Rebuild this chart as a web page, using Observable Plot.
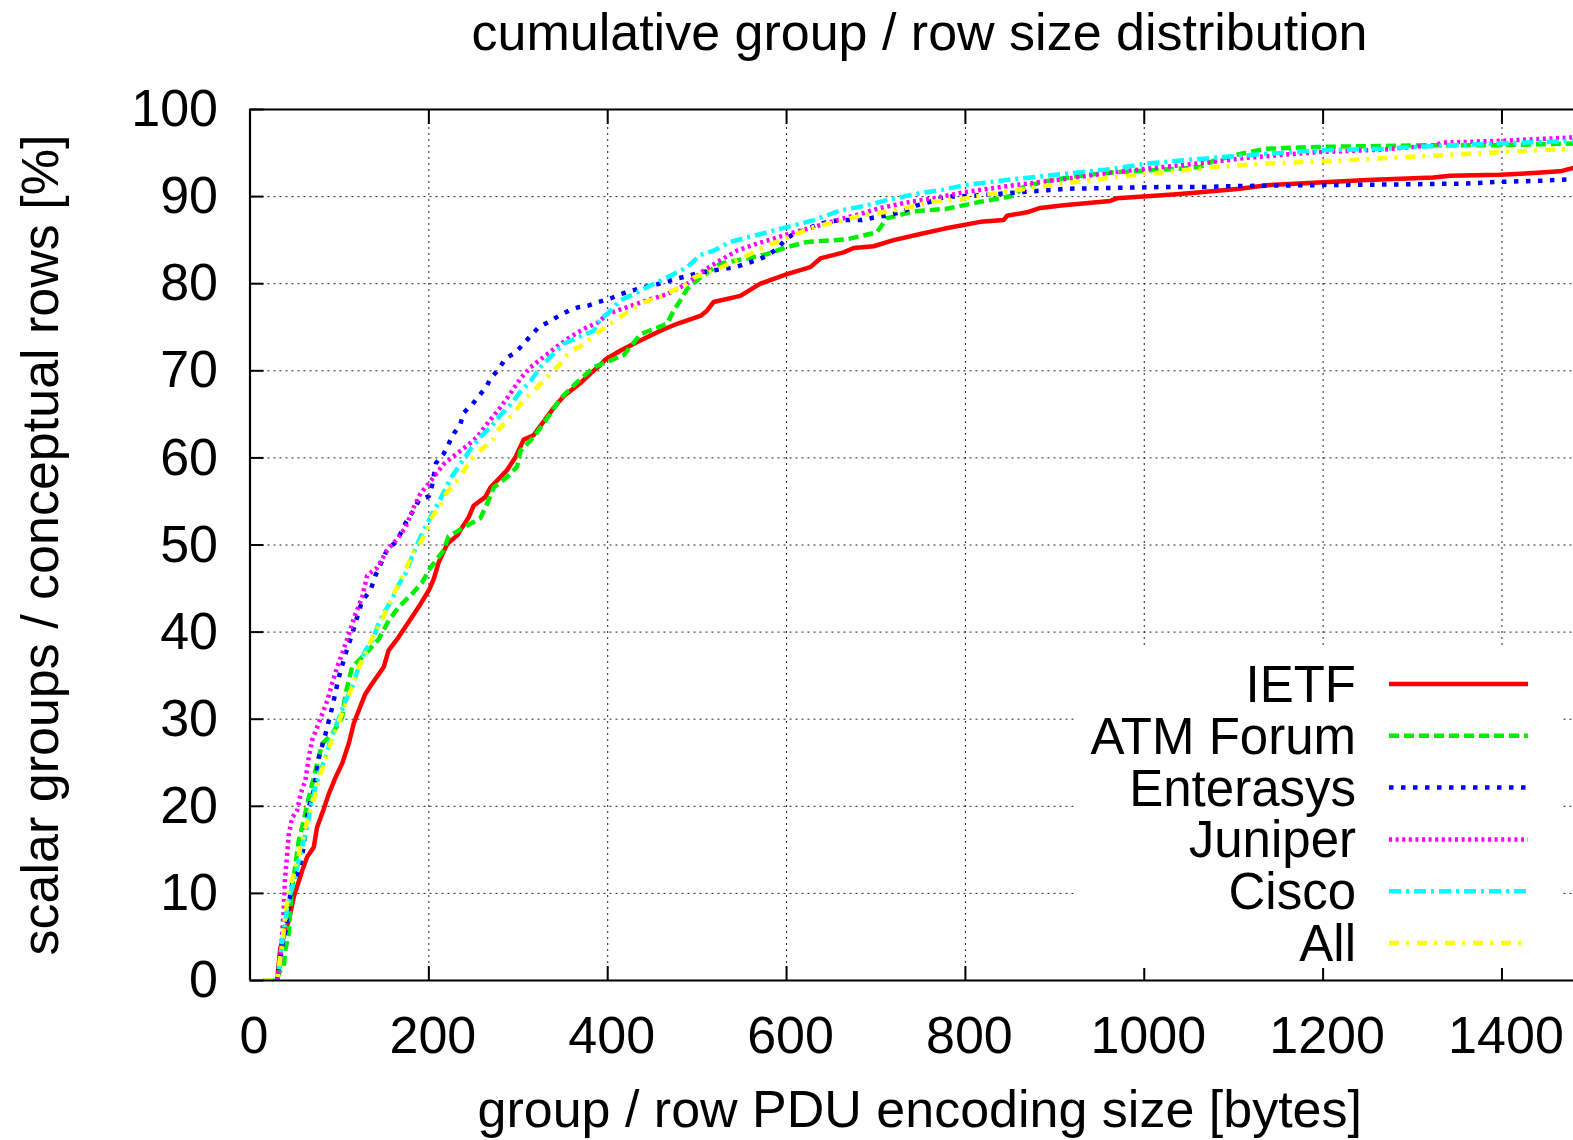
<!DOCTYPE html>
<html>
<head>
<meta charset="utf-8">
<script src="https://cdn.jsdelivr.net/npm/d3@7"></script>
<script src="https://cdn.jsdelivr.net/npm/@observablehq/plot@0.6"></script>
<style>
  html, body { margin: 0; padding: 0; background: #fff; overflow: hidden; }
  body { width: 1573px; height: 1140px; position: relative; font-family: "Liberation Sans", Arial, sans-serif; color: #000; }
  #title { position: absolute; left: 248px; top: 0; width: 1343px; height: 64px; line-height: 64px; text-align: center; font-size: 52px; white-space: nowrap; }
  #chart { position: absolute; left: 0; top: 64px; }
  #legend { position: absolute; left: 1077px; top: 648px; }
</style>
</head>
<body>
<div id="title"></div>
<div id="chart"></div>
<div id="legend"></div>
<script>
// ---- texts ----
const titleText = "cumulative group / row size distribution";
const xLabel = "group / row PDU encoding size [bytes]";
const yLabel = "scalar groups / conceptual rows [%]";

// ---- ticks ----
const xTicks = [0, 200, 400, 600, 800, 1000, 1200, 1400];
const yTicks = [0, 10, 20, 30, 40, 50, 60, 70, 80, 90, 100];
const xGrid = [200, 400, 600, 800, 1000, 1200, 1400];
const yGrid = [10, 20, 30, 40, 50, 60, 70, 80, 90];

// ---- series: [size in bytes, cumulative %] ----
const seriesNames = ["IETF", "ATM Forum", "Enterasys", "Juniper", "Cisco", "All"];

const ietf = [[15,0],[30,0],[30.4,0.2],[34,3.8],[43.4,6.9],[49,9.6],[58.3,12.6],[64,14.2],[71.3,15.3],[75,17.6],[82.5,19.7],[88,21.4],[95.6,23.3],[103,24.9],[110.5,27.2],[116,29.5],[121.6,31],[129,32.9],[136.6,34.1],[149.6,36],[155,37.9],[166,39.4],[181,41.7],[188.7,42.9],[200,44.8],[205.5,46.1],[211,48],[220.5,50.1],[231.6,51.1],[244.6,53.2],[250,54.5],[263,55.5],[268.9,56.6],[287.5,58.6],[297,60.1],[306,62.1],[317,62.6],[330,64.4],[340,65.8],[351,67.1],[369.5,68.6],[381,69.7],[392,70.7],[397.4,71.3],[414,72.3],[433,73.3],[459,74.6],[477.6,75.4],[503.6,76.3],[511,76.9],[518.5,77.9],[548.3,78.6],[570.7,80],[600.5,81.1],[626.6,81.9],[637.8,82.9],[663.8,83.6],[675,84.1],[697.4,84.3],[719.7,85],[749.6,85.7],[775.6,86.3],[816.7,87.1],[842.7,87.3],[846.5,87.8],[868.8,88.2],[883.7,88.7],[909.8,89],[962,89.5],[969.5,89.8],[999.2,90],[1040,90.3],[1062.6,90.5],[1107,90.9],[1137,91.3],[1211.6,91.7],[1249,91.9],[1323.4,92.2],[1342,92.4],[1398,92.5],[1435,92.7],[1465,92.9],[1480,93.3]];

const atmForum = [[15,0],[30,0],[33,1],[37.8,1.7],[39.7,3.6],[43.4,5.4],[45.3,8.4],[47.2,10.7],[50.9,13.4],[54.6,16.1],[60.1,18.4],[65.7,21],[73.2,24.1],[80.7,27.2],[91.9,28.3],[103,30.2],[106.8,32.9],[114.3,36],[129,37.5],[144,39.2],[155,41.3],[166.4,42.9],[181.3,44.4],[192.5,45.7],[201.8,47.4],[216.7,49.4],[222,51],[239,52],[257.7,53.1],[265,54.7],[272.5,56.6],[287.5,57.8],[298.7,59],[302.4,60.8],[317.3,62.4],[332,64.5],[347,66.8],[365.8,68.7],[384.4,70.4],[418,71.8],[436.6,74.2],[466.4,75.4],[473.8,76.9],[481.3,78.1],[488.8,79.4],[503.6,80.7],[526,82.3],[555.8,82.9],[578,83.4],[600.5,84.2],[623,84.8],[667.6,85.1],[701,85.9],[712,87.5],[742,88.3],[779,88.6],[816.7,89.4],[854,90.1],[865,91.1],[891,91.8],[928.4,92.4],[965.7,92.8],[1003,93],[1040,93.2],[1062.6,93.4],[1077.5,94.1],[1107,94.9],[1137,95.5],[1193,95.7],[1323,95.9],[1398,95.9],[1480,96.1]];

const enterasys = [[15,0],[30,0],[33,2],[36,4],[39.7,5.7],[43.4,8.8],[47.2,11.1],[54.6,12.6],[60,15.3],[62,17.6],[65.7,19.9],[71.3,21.8],[77,25.6],[84.4,28.3],[92,31.4],[99.3,34.8],[106.8,37.5],[114.3,39.8],[118,41.1],[125.4,43.6],[134.7,44.8],[140.3,46.5],[147.8,48.2],[153.4,49.5],[164,50.4],[173.8,52.5],[183,54],[188.7,55.1],[200,55.6],[203.7,56.9],[208,59.4],[216.7,60.5],[228,62.8],[235.3,63.9],[239,65.2],[248.4,66.1],[255.8,67.1],[264,68.1],[268.9,69.1],[278.2,70.2],[285.6,71.4],[296.8,72.1],[304.3,72.9],[313.6,74],[322.9,75],[334,75.6],[345.2,76.3],[356.4,76.9],[367.6,77.3],[378.8,77.5],[390,77.9],[403,78.3],[414,78.8],[427,79.2],[440,79.6],[451.4,79.8],[464.5,80.2],[477.6,80.6],[490.5,80.9],[503.6,81.3],[516.7,81.5],[529.7,81.7],[542.7,81.9],[554,82.3],[567,82.7],[578.2,83.2],[589.4,84],[600,85.2],[608,85.7],[619,86.1],[632.2,86.7],[645.3,87.1],[660,87.3],[684.4,87.3],[697.4,87.6],[710.4,87.8],[723.5,88.1],[734.7,88.5],[745.9,89],[757,89.3],[772,89.8],[783,90],[809,90.1],[861,90.5],[913.6,90.9],[965.7,91],[1021.6,91.1],[1070,91.1],[1096,91.2],[1174,91.3],[1286,91.4],[1361,91.5],[1398,91.7],[1439,91.8],[1480,92]];

const juniper = [[15,0],[30,0],[32,1],[34,2.3],[36,5.4],[37.8,8.4],[39,11.5],[41.6,14.5],[43.4,16.8],[47.2,18.7],[52.8,19.5],[56.5,21.4],[62,23],[65.7,25.6],[69.5,27.6],[75.1,29.1],[80.7,30.6],[86.3,32.1],[91.9,34.1],[97.5,36],[103,37.5],[110.5,39.8],[118,42.1],[125.4,44],[131,46.5],[142.2,47.4],[153.4,49.4],[164.6,50.7],[173.8,52],[183,54.3],[190.6,55.9],[205.5,57.8],[216.7,59.3],[229,60.3],[242.8,61.4],[254,62.4],[265,63.9],[280,65.8],[291.2,67.4],[302.4,69.1],[313.6,70.4],[328.5,71.6],[343.4,72.8],[358.3,73.9],[373,74.8],[390,75.6],[399.3,76.5],[421.7,77.3],[444,78.1],[466.4,78.8],[488.8,80],[507.3,81.5],[526,82.7],[544.7,83.8],[567,84.6],[589.4,85.3],[608,85.9],[630.3,86.5],[656.4,87.3],[682.5,88],[704.8,88.7],[738.4,89.4],[764.4,89.8],[798,90.5],[854,91.3],[909.8,92],[965.7,92.8],[1021.6,93.4],[1077.5,94],[1118.5,94.5],[1193,95.1],[1267.5,95.4],[1323.4,95.9],[1334.6,96.2],[1398,96.4],[1480,96.8]];

const cisco = [[15,0],[30,0],[33,2],[36,4.5],[39.7,6.9],[41.6,8.4],[45.3,10],[50.9,12.2],[54.6,13.8],[58.3,15.3],[64,17.6],[67.6,19.9],[73.2,22.2],[78.8,24.1],[84.4,25.6],[90,27.6],[95.6,29.1],[101.2,30.6],[106.8,32.1],[114.3,33.7],[121.6,36],[129,37.9],[136.6,39],[144,41],[151.5,42.5],[159,43.8],[166.4,45.5],[173.8,46.7],[179.4,48.2],[187,50.1],[190.6,50.9],[201.8,53.2],[213,55.3],[224,57.6],[235.3,59.3],[246.5,61],[257.7,62.4],[268.9,63.5],[280,64.9],[291.2,66.1],[302.4,67.6],[313.6,68.8],[324.8,70.4],[336,71.6],[351,73.1],[365.8,73.8],[384.4,74.6],[391.8,76],[399.3,76.5],[414.2,78.1],[429,78.8],[447.7,79.8],[466.4,80.7],[488.8,81.9],[503.6,83.3],[518.5,83.8],[537,84.8],[555.8,85.3],[578.2,85.9],[608,86.7],[630.3,87.3],[660,88.4],[690,89],[712,89.6],[749.6,90.4],[775.6,90.8],[798,91.3],[854,92],[909.8,92.6],[965.7,93.2],[1003,93.8],[1059,94.3],[1107,94.7],[1193,95.3],[1267.5,95.5],[1342,95.9],[1398,96.1],[1480,96.4]];

const all = [[15,0],[30,0],[33,2],[36,4.2],[39.7,7.7],[43.4,10.3],[49,12.2],[54.6,14.5],[62,17.6],[67.6,19.5],[73.2,21.4],[78.8,23.7],[84.4,25.3],[90,27.2],[95.6,28.7],[101.2,30.2],[106.8,31.8],[114.3,33.7],[119.8,35.6],[132.8,38.3],[138.4,39.8],[146,41],[157,43.6],[170,46.3],[183,49.2],[187,49.6],[198,51.7],[201.8,53],[213,54.5],[216.7,55.6],[231.6,57.4],[235.3,57.9],[246.5,59.7],[254,60.5],[261.4,61.2],[272.5,62.2],[276.4,63.1],[291.2,64.7],[306,66.6],[310,67],[321,68.1],[328.5,68.9],[347,70.8],[358.3,72.3],[369.5,72.8],[391.8,74.6],[414.2,76.2],[436.6,77.7],[459,78.5],[488.8,80],[496,80.7],[518.5,81.5],[541,82.5],[559.5,83.4],[570.7,84],[600.5,85.3],[630.3,86.5],[656.4,87.1],[682.5,87.8],[708.5,88.2],[738.4,88.8],[760.8,89.4],[794.3,89.7],[816.7,90.1],[854,90.7],[909.8,91.5],[965.7,92.2],[1021.6,92.8],[1062.6,93.2],[1077.5,93.4],[1137,93.8],[1211.6,94.1],[1286,94.5],[1361,94.9],[1398,95.1],[1480,95.5]];

const seriesData = [ietf, atmForum, enterasys, juniper, cisco, all];

// ---- styles ----
const seriesColors = ["#ff0000", "#00ee00", "#0000ff", "#ff00ff", "#00ffff", "#ffff00"];
const seriesDash = [null, "10,5", "4.5,7.5", "3,3.6", "12,5,3,5", "10,7,3,8"];
const lineWidth = 4.5;
const font = "Liberation Sans, Arial, sans-serif";
const fs = 52;
const keyFs = 51;

document.getElementById("title").textContent = titleText;

const lineMarks = seriesData.map((data, i) =>
  Plot.line(data, {
    x: d => d[0], y: d => d[1],
    stroke: seriesColors[i], strokeWidth: lineWidth,
    strokeDasharray: seriesDash[i] || undefined,
    strokeLinecap: "butt", strokeLinejoin: "round",
    clip: true
  })
);

const chart = Plot.plot({
  width: 1573,
  height: 1076,
  marginLeft: 249.5,
  marginRight: 0,
  marginTop: 45,
  marginBottom: 160,
  x: {domain: [0, 1480]},
  y: {domain: [0, 100]},
  style: {fontFamily: font, background: "transparent", color: "#000", overflow: "visible"},
  marks: [
    Plot.gridX(xGrid, {stroke: "#222", strokeOpacity: 1, strokeWidth: 1, strokeDasharray: "2,4"}),
    Plot.gridY(yGrid, {stroke: "#222", strokeOpacity: 1, strokeWidth: 1, strokeDasharray: "2,4"}),
    // inward ticks (gnuplot style, mirrored on top)
    Plot.axisX({anchor: "bottom", ticks: xTicks, tickSize: -14, text: null, label: null, strokeWidth: 2}),
    Plot.axisX({anchor: "top", ticks: xTicks, tickSize: -14, text: null, label: null, strokeWidth: 2}),
    Plot.axisY({anchor: "left", ticks: yTicks, tickSize: -14, text: null, label: null, strokeWidth: 2}),
    // tick labels
    Plot.axisX({anchor: "bottom", ticks: xTicks, tickFormat: d => String(d), tickSize: 0, tickPadding: 36, dx: 4, fontSize: fs, label: null}),
    Plot.axisY({anchor: "left", ticks: yTicks, tickFormat: d => String(d), tickSize: 0, tickPadding: 32, fontSize: fs, label: null}),
    ...lineMarks,
    Plot.ruleY([0, 100], {stroke: "#000", strokeWidth: 2.2}),
    Plot.ruleX([0], {stroke: "#000", strokeWidth: 2.2}),
    Plot.text([xLabel], {frameAnchor: "bottom", dx: 8, dy: 146, lineAnchor: "bottom", textAnchor: "middle", fontSize: fs, fill: "#000"}),
    Plot.text([yLabel], {frameAnchor: "left", dx: -192.5, rotate: -90, lineAnchor: "bottom", textAnchor: "middle", fontSize: fs, fill: "#000"})
  ]
});
document.getElementById("chart").appendChild(chart);

// ---- in-plot key (white box hides the grid, as in gnuplot) ----
const keyW = 483, keyH = 320, rowGap = 51.8;
const key = d3.select("#legend").append("svg")
  .attr("width", keyW).attr("height", keyH + 16)
  .style("font-family", font)
  .style("overflow", "visible");
key.append("rect").attr("width", keyW).attr("height", keyH).attr("fill", "#fff");
seriesNames.forEach((name, i) => {
  key.append("text")
    .attr("x", 279).attr("y", 54 + rowGap * i)
    .attr("text-anchor", "end").attr("font-size", keyFs).attr("fill", "#000")
    .text(name);
  key.append("line")
    .attr("x1", 312).attr("x2", 451)
    .attr("y1", 36 + rowGap * i).attr("y2", 36 + rowGap * i)
    .attr("stroke", seriesColors[i]).attr("stroke-width", lineWidth)
    .attr("stroke-dasharray", seriesDash[i])
    .attr("stroke-linecap", "butt");
});
</script>
</body>
</html>
